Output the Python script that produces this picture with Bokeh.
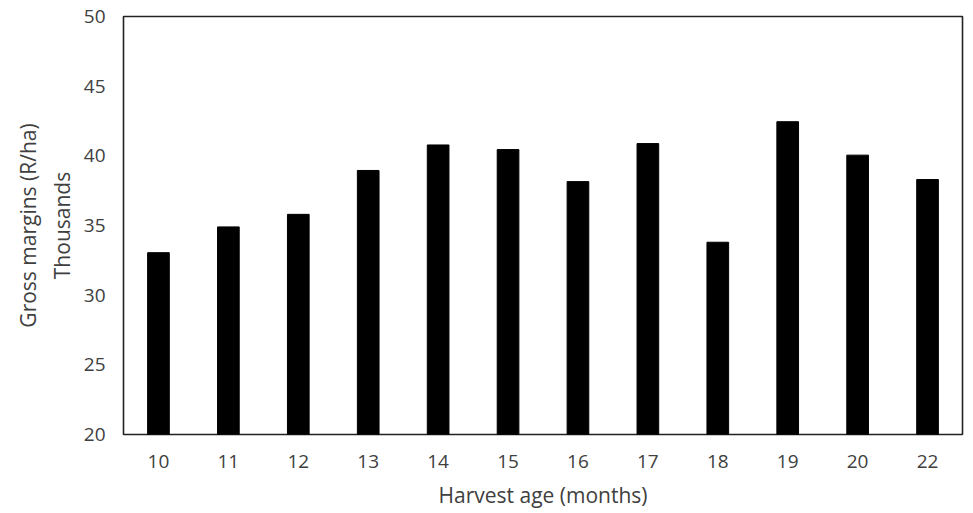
from bokeh.plotting import figure
from bokeh.models import FactorRange, Range1d, FixedTicker
from bokeh.embed import file_html
from bokeh.resources import INLINE

harvest_age = ["10", "11", "12", "13", "14", "15", "16", "17", "18", "19", "20", "22"]
gross_margin = [33.05, 34.9, 35.8, 38.95, 40.78, 40.45, 38.15, 40.88, 33.8, 42.45, 40.05, 38.3]
y_ticks = [20, 25, 30, 35, 40, 45, 50]

p = figure(width=966, height=511, x_range=FactorRange(*harvest_age, range_padding=0),
           y_range=Range1d(20, 50), output_backend="svg", toolbar_location=None,
           min_border_left=123, min_border_right=4, min_border_top=16, min_border_bottom=4)

p.vbar(x=harvest_age, top=gross_margin, bottom=20, width=0.31, fill_color="black", line_color="black")

p.xgrid.grid_line_color = None
p.ygrid.grid_line_color = None
p.outline_line_color = "#222222"
p.outline_line_width = 1.6
p.background_fill_color = "white"

font = "Open Sans"
txt = "#404040"
for ax in (p.xaxis[0], p.yaxis[0]):
    ax.axis_line_color = None
    ax.major_tick_line_color = None
    ax.minor_tick_line_color = None
    ax.major_label_text_font = font
    ax.major_label_text_font_size = "19px"
    ax.major_label_text_color = txt
    ax.axis_label_text_font = font
    ax.axis_label_text_font_size = "21px"
    ax.axis_label_text_font_style = "normal"
    ax.axis_label_text_color = txt

p.yaxis.ticker = FixedTicker(ticks=y_ticks)
p.yaxis.major_label_standoff = 12
p.xaxis.major_label_standoff = 14
p.yaxis.axis_label = "Gross margins (R/ha)\nThousands"
p.xaxis.axis_label = "Harvest age (months)"
p.yaxis.axis_label_standoff = 5
p.xaxis.axis_label_standoff = 10

open("out.html", "w").write(file_html(p, INLINE))
